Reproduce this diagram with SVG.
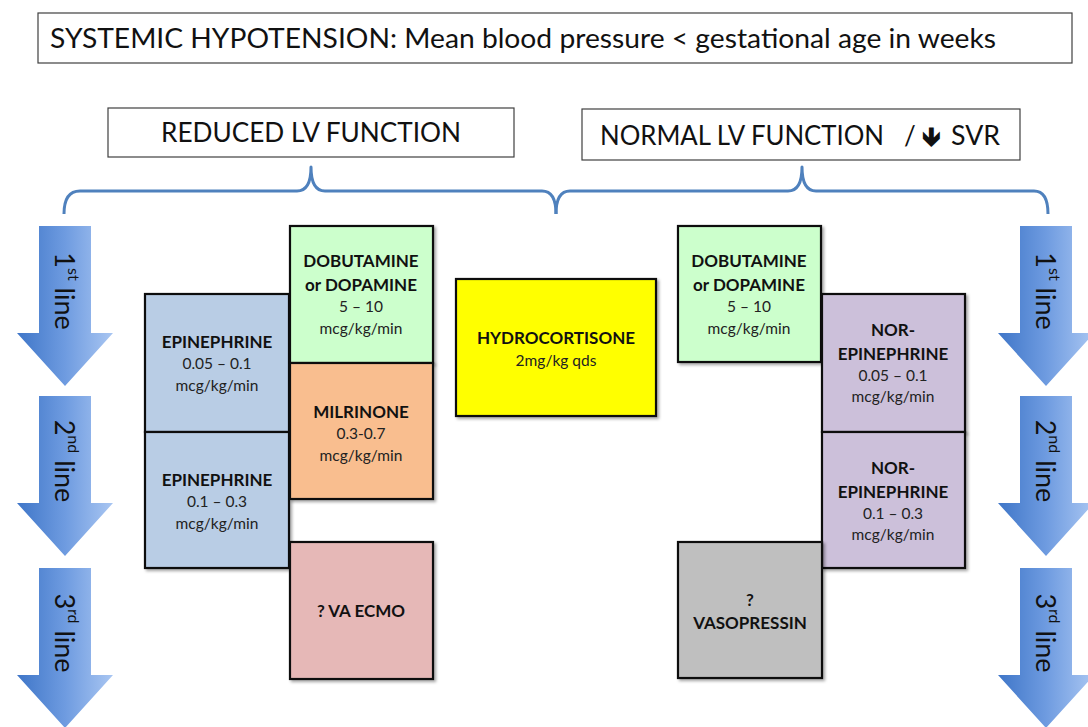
<svg xmlns="http://www.w3.org/2000/svg" width="1088" height="727" viewBox="0 0 1088 727">
<style>
.hdr{fill:#fff;stroke:#404040;stroke-width:1.2}
.ht{font-family:Lato,"Open Sans",sans-serif;font-size:26px;fill:#111}
.box{stroke:#111;stroke-width:2.2;filter:url(#sh)}
.b{font-family:Lato,"Open Sans",sans-serif;font-weight:bold;font-size:17px;fill:#111;text-anchor:middle}
.r{font-family:Lato,"Open Sans",sans-serif;font-size:15.5px;fill:#222;text-anchor:middle}
.at{font-family:Lato,"Open Sans",sans-serif;font-size:27px;fill:#111;text-anchor:middle;dominant-baseline:central}
.brace{fill:none;stroke:#4f81bd;stroke-width:3;stroke-linejoin:round}
</style>
<defs>
<linearGradient id="ag" x1="0" y1="0" x2="1" y2="0">
<stop offset="0" stop-color="#3f76c8"/>
<stop offset="0.5" stop-color="#6e9be0"/>
<stop offset="1" stop-color="#a9c6f2"/>
</linearGradient>
<filter id="sh" x="-10%" y="-10%" width="130%" height="130%">
<feDropShadow dx="2" dy="2" stdDeviation="1.5" flood-color="#000" flood-opacity="0.35"/>
</filter>
<path id="arr" d="M-26,0 L26,0 L26,107 L48,107 L0,160 L-48,107 L-26,107 Z"/>
</defs>

<g id="title">
<rect class="hdr" x="38" y="13" width="1034" height="50"/>
<text class="ht" x="50" y="48" textLength="946" lengthAdjust="spacingAndGlyphs">SYSTEMIC HYPOTENSION: Mean blood pressure &lt; gestational age in weeks</text>
</g>

<g id="reduced">
<rect class="hdr" x="108" y="108" width="406" height="49"/>
<text class="ht" x="311" y="142" text-anchor="middle" textLength="300" lengthAdjust="spacingAndGlyphs">REDUCED LV FUNCTION</text>
</g>

<g id="normal">
<rect class="hdr" x="582" y="109" width="438" height="51"/>
<text class="ht" x="600" y="145"><tspan textLength="284" lengthAdjust="spacingAndGlyphs">NORMAL LV FUNCTION</tspan><tspan x="904">/</tspan></text>
<text class="ht" x="922" y="146" font-weight="bold" font-size="36">🡻</text>
<text class="ht" x="951" y="145" textLength="49" lengthAdjust="spacingAndGlyphs">SVR</text>
</g>

<g id="connectors">
<path class="brace" d="M64,214 Q64,191 80,191 L297,191 Q311,191 311,167 Q311,191 325,191 L542,191 Q556,191 556,214"/>
<path class="brace" d="M556,214 Q556,191 570,191 L788,191 Q802,191 802,167 Q802,191 816,191 L1034,191 Q1048,191 1048,214"/>
</g>

<g id="arrows-left">
<use href="#arr" x="65" y="226" fill="url(#ag)"/>
<use href="#arr" x="65" y="396" fill="url(#ag)"/>
<use href="#arr" x="65" y="568" fill="url(#ag)"/>
<text class="at" transform="translate(65,291) rotate(90)">1<tspan font-size="16" baseline-shift="super">st</tspan> line</text>
<text class="at" transform="translate(65,461) rotate(90)">2<tspan font-size="16" baseline-shift="super">nd</tspan> line</text>
<text class="at" transform="translate(65,633) rotate(90)">3<tspan font-size="16" baseline-shift="super">rd</tspan> line</text>
</g>

<g id="arrows-right">
<use href="#arr" x="1046" y="226" fill="url(#ag)"/>
<use href="#arr" x="1046" y="396" fill="url(#ag)"/>
<use href="#arr" x="1046" y="568" fill="url(#ag)"/>
<text class="at" transform="translate(1046,291) rotate(90)">1<tspan font-size="16" baseline-shift="super">st</tspan> line</text>
<text class="at" transform="translate(1046,461) rotate(90)">2<tspan font-size="16" baseline-shift="super">nd</tspan> line</text>
<text class="at" transform="translate(1046,633) rotate(90)">3<tspan font-size="16" baseline-shift="super">rd</tspan> line</text>
</g>

<g id="epi1">
<rect class="box" x="145" y="294" width="144" height="138" fill="#b9cde5"/>
<text class="b" x="217" y="348">EPINEPHRINE</text>
<text class="r" x="217" y="369">0.05 – 0.1</text>
<text class="r" x="217" y="391">mcg/kg/min</text>
</g>

<g id="epi2">
<rect class="box" x="145" y="432" width="144" height="136" fill="#b9cde5"/>
<text class="b" x="217" y="486">EPINEPHRINE</text>
<text class="r" x="217" y="507">0.1 – 0.3</text>
<text class="r" x="217" y="529">mcg/kg/min</text>
</g>

<g id="dobu-left">
<rect class="box" x="290" y="226" width="143" height="137" fill="#ccffcc"/>
<text class="b" x="361" y="267">DOBUTAMINE</text>
<text class="b" x="361" y="291">or DOPAMINE</text>
<text class="r" x="361" y="312">5 – 10</text>
<text class="r" x="361" y="334">mcg/kg/min</text>
</g>

<g id="milrinone">
<rect class="box" x="290" y="363" width="143" height="136" fill="#f9be8f"/>
<text class="b" x="361" y="418">MILRINONE</text>
<text class="r" x="361" y="439">0.3-0.7</text>
<text class="r" x="361" y="461">mcg/kg/min</text>
</g>

<g id="ecmo">
<rect class="box" x="290" y="542" width="143" height="137" fill="#e6b8b7"/>
<text class="b" x="361" y="617">? VA ECMO</text>
</g>

<g id="hydrocortisone">
<rect class="box" x="456" y="279" width="200" height="137" fill="#ffff00"/>
<text class="b" x="556" y="344">HYDROCORTISONE</text>
<text class="r" x="556" y="366">2mg/kg qds</text>
</g>

<g id="dobu-right">
<rect class="box" x="678" y="226" width="143" height="136" fill="#ccffcc"/>
<text class="b" x="749" y="267">DOBUTAMINE</text>
<text class="b" x="749" y="291">or DOPAMINE</text>
<text class="r" x="749" y="312">5 – 10</text>
<text class="r" x="749" y="334">mcg/kg/min</text>
</g>

<g id="norepi1">
<rect class="box" x="822" y="294" width="143" height="138" fill="#ccc0da"/>
<text class="b" x="893" y="336">NOR-</text>
<text class="b" x="893" y="360">EPINEPHRINE</text>
<text class="r" x="893" y="381">0.05 – 0.1</text>
<text class="r" x="893" y="402">mcg/kg/min</text>
</g>

<g id="norepi2">
<rect class="box" x="822" y="432" width="143" height="136" fill="#ccc0da"/>
<text class="b" x="893" y="474">NOR-</text>
<text class="b" x="893" y="498">EPINEPHRINE</text>
<text class="r" x="893" y="519">0.1 – 0.3</text>
<text class="r" x="893" y="540">mcg/kg/min</text>
</g>

<g id="vasopressin">
<rect class="box" x="678" y="542" width="144" height="136" fill="#bfbfbf"/>
<text class="b" x="750" y="606">?</text>
<text class="b" x="750" y="629">VASOPRESSIN</text>
</g>
</svg>
